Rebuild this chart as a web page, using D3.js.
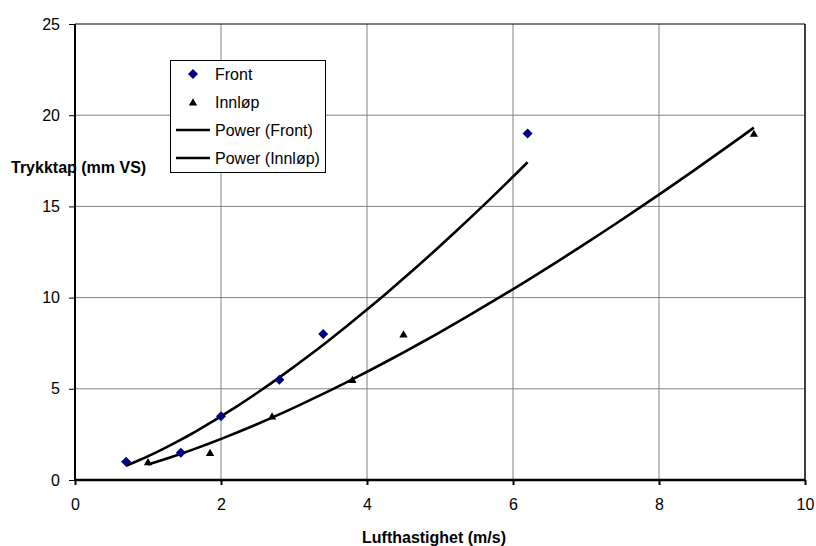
<!DOCTYPE html>
<html>
<head>
<meta charset="utf-8">
<script src="https://cdn.jsdelivr.net/npm/d3@7"></script>
<style>
  body { margin: 0; background: #fff; }
  text { font-family: Arial, "Liberation Sans", sans-serif; }
</style>
</head>
<body>
<div id="graphics"></div>
<script>
// data
var frontX = [0.7, 1.45, 2.0, 2.8, 3.4, 6.2];
var frontY = [1, 1.5, 3.5, 5.5, 8, 19];
var innlopX = [1.0, 1.85, 2.7, 3.8, 4.5, 9.3];
var innlopY = [1, 1.5, 3.5, 5.5, 8, 19];
var xTicks = [0, 2, 4, 6, 8, 10];
var yTicks = [0, 5, 10, 15, 20, 25];
var legendLabels = ["Front", "Innløp", "Power (Front)", "Power (Innløp)"];

var w = 816, h = 546;

var svg = d3.select("#graphics")
  .append("svg")
  .attr("width", w)
  .attr("height", h);

var x = d3.scaleLinear().domain([0, 10]).range([75, 805]);
var y = d3.scaleLinear().domain([0, 25]).range([480, 24]);

// gridlines
svg.selectAll("line.gx")
  .data(xTicks.slice(1, -1))
  .enter()
  .append("line")
  .attr("x1", function(d) { return x(d); })
  .attr("x2", function(d) { return x(d); })
  .attr("y1", y(25))
  .attr("y2", y(0))
  .attr("stroke", "#808080")
  .attr("stroke-width", 1);

svg.selectAll("line.gy")
  .data(yTicks.slice(1, -1))
  .enter()
  .append("line")
  .attr("x1", x(0))
  .attr("x2", x(10))
  .attr("y1", function(d) { return y(d); })
  .attr("y2", function(d) { return y(d); })
  .attr("stroke", "#808080")
  .attr("stroke-width", 1);

// top + right border
svg.append("line")
  .attr("x1", x(0)).attr("x2", x(10))
  .attr("y1", y(25)).attr("y2", y(25))
  .attr("stroke", "#000").attr("stroke-width", 1.2);
svg.append("line")
  .attr("x1", x(10)).attr("x2", x(10))
  .attr("y1", y(25)).attr("y2", y(0))
  .attr("stroke", "#000").attr("stroke-width", 1.5);

// axis titles (drawn before axes, y axis line goes over it)
svg.append("text")
  .text("Trykktap (mm VS)")
  .attr("x", 11)
  .attr("y", 173)
  .attr("font-size", "16px")
  .attr("font-weight", "bold")
  .attr("fill", "#000");

svg.append("text")
  .text("Lufthastighet (m/s)")
  .attr("x", 434)
  .attr("y", 543)
  .attr("text-anchor", "middle")
  .attr("font-size", "16px")
  .attr("font-weight", "bold")
  .attr("fill", "#000");

// axes
var xAxis = d3.axisBottom(x).tickValues(xTicks).tickSize(5).tickPadding(14);
var yAxis = d3.axisLeft(y).tickValues(yTicks).tickSize(6).tickPadding(9);

var gx = svg.append("g")
  .attr("transform", "translate(0," + y(0) + ")")
  .call(xAxis);
gx.select(".domain").attr("stroke", "#000").attr("stroke-width", 2.5).attr("d", "M" + x(0) + ",0H" + x(10));
gx.selectAll(".tick line").attr("stroke", "#000").attr("stroke-width", 2);
gx.selectAll(".tick text")
  .attr("font-size", "16px")
  .attr("font-family", "Arial, 'Liberation Sans', sans-serif")
  .attr("fill", "#000");

var gy = svg.append("g")
  .attr("transform", "translate(" + x(0) + ",0)")
  .call(yAxis);
gy.select(".domain").attr("stroke", "#000").attr("stroke-width", 2).attr("d", "M0," + y(25) + "V" + y(0));
gy.selectAll(".tick line").attr("stroke", "#000").attr("stroke-width", 1);
gy.selectAll(".tick text")
  .attr("font-size", "16px")
  .attr("font-family", "Arial, 'Liberation Sans', sans-serif")
  .attr("fill", "#000");

// power trendline, y = a * x^b, least squares on logs
function powerFit(xs, ys) {
  var lx = xs.map(Math.log), ly = ys.map(Math.log);
  var mx = d3.mean(lx), my = d3.mean(ly);
  var sxy = d3.sum(lx, function(d, i) { return (d - mx) * (ly[i] - my); });
  var sxx = d3.sum(lx, function(d) { return (d - mx) * (d - mx); });
  var b = sxy / sxx;
  var a = Math.exp(my - b * mx);
  var x0 = d3.min(xs), x1 = d3.max(xs);
  var pts = d3.range(0, 41).map(function(i) {
    var xv = x0 + (x1 - x0) * i / 40;
    return [xv, a * Math.pow(xv, b)];
  });
  return pts;
}

var line = d3.line()
  .x(function(d) { return x(d[0]); })
  .y(function(d) { return y(d[1]); });

[powerFit(frontX, frontY), powerFit(innlopX, innlopY)].forEach(function(pts) {
  svg.append("path")
    .attr("d", line(pts))
    .attr("fill", "none")
    .attr("stroke", "#000")
    .attr("stroke-width", 2.6);
});

// markers
var diamond = d3.symbol().type(d3.symbolDiamond2).size(64);
var triangle = d3.symbol().type(d3.symbolTriangle).size(30);

svg.selectAll("path.front")
  .data(frontX)
  .enter()
  .append("path")
  .attr("d", diamond)
  .attr("transform", function(d, i) {
    return "translate(" + x(d) + "," + y(frontY[i]) + ")";
  })
  .attr("fill", "#000080");

svg.selectAll("path.innlop")
  .data(innlopX)
  .enter()
  .append("path")
  .attr("d", triangle)
  .attr("transform", function(d, i) {
    return "translate(" + x(d) + "," + (y(innlopY[i]) + 1) + ")";
  })
  .attr("fill", "#000");

// legend
var lg = svg.append("g");
lg.append("rect")
  .attr("x", 170.5).attr("y", 60.5)
  .attr("width", 155).attr("height", 112)
  .attr("fill", "#fff")
  .attr("stroke", "#000")
  .attr("stroke-width", 1);

lg.selectAll("text")
  .data(legendLabels)
  .enter()
  .append("text")
  .text(function(d) { return d; })
  .attr("x", 215)
  .attr("y", function(d, i) { return 74 + i * 28 + 6; })
  .attr("font-size", "16px")
  .attr("fill", "#000");

lg.append("path").attr("d", diamond)
  .attr("transform", "translate(193,74)").attr("fill", "#000080");
lg.append("path").attr("d", triangle)
  .attr("transform", "translate(193,103)").attr("fill", "#000");
[130, 158].forEach(function(yy) {
  lg.append("line")
    .attr("x1", 176).attr("x2", 210)
    .attr("y1", yy).attr("y2", yy)
    .attr("stroke", "#000").attr("stroke-width", 2.5);
});
</script>
</body>
</html>
